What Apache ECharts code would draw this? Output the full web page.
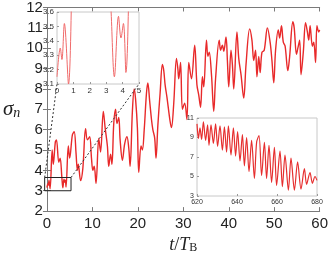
<!DOCTYPE html>
<html><head><meta charset="utf-8">
<script src="https://cdn.jsdelivr.net/npm/echarts@6/dist/echarts.min.js"></script>
<style>html,body{margin:0;padding:0;background:#fff}#c{width:331px;height:259px}</style>
</head><body><div id="c"></div>
<script>
// main chart data (t / T_B, sigma_n)
const mainT = [0,0.2,0.3,0.45,0.7,1.15,1.4,1.85,2.1,2.6,2.9,3.3,3.5,3.75,3.9,4.05,4.2,4.7,5.0,5.6,6.0,6.4,6.7,6.9,7.4,7.9,8.5,8.9,9.4,9.8,10.1,10.4,10.8,11.4,11.8,12.4,12.8,13.3,13.6,14.0,14.3,14.7,15.1,15.4,15.8,16.1,16.6,17.1,17.6,18.0,18.3,18.8,19.2,19.5,19.9,20.2,20.7,21.0,21.4,21.9,22.2,22.6,23.0,23.3,23.7,24.0,24.4,24.9,25.4,25.7,26.0,26.4,27.1,27.4,27.9,28.5,28.8,29.0,29.4,29.8,30.3,30.8,31.2,31.8,32.5,33.0,33.4,33.8,34.2,34.5,35.1,35.4,35.7,36.2,36.7,37.1,37.9,38.2,38.6,38.9,39.4,39.7,40.0,40.5,40.8,41.1,41.8,42.2,42.7,43.3,43.8,44.6,45.1,45.5,45.9,46.2,46.6,46.9,47.3,47.8,48.5,49.1,49.5,49.9,50.3,50.9,51.2,51.6,52.0,52.4,53.0,53.4,54.1,54.4,54.9,55.2,55.6,55.9,56.4,56.9,57.3,57.6,57.9,58.4,58.7,59.1,59.4,59.8,60];
const mainV = [3.15,3.35,3.27,3.52,3.1,5.0,4.3,5.4,5.5,4.4,4.6,3.6,3.15,3.57,3.42,3.52,3.18,5.2,4.6,5.75,5.9,4.85,4.0,4.3,3.5,4.1,6.05,5.5,5.65,4.6,4.0,4.2,3.36,5.57,4.9,6.9,6.1,5.2,4.2,4.8,4.3,6.3,7.0,6.3,6.6,5.5,4.5,5.3,5.65,5.1,4.2,6.9,8.0,7.5,6.1,3.9,5.2,5.0,6.0,7.8,8.3,7.4,6.5,6.0,5.6,4.6,6.2,7.8,9.2,8.9,8.2,7.6,6.4,6.1,7.3,9.5,9.0,8.5,9.3,7.0,7.3,6.5,9.3,8.5,10.15,8.2,7.7,7.1,8.6,8.1,10.4,9.6,9.8,8.7,6.9,8.5,10.4,9.9,10.15,9.85,10.55,9.4,8.1,9.9,9.2,8.0,10.8,9.5,8.7,7.55,9.2,10.95,10.4,9.4,9.9,8.6,9.6,8.8,9.8,9.9,11.0,10.3,9.4,8.3,9.9,10.9,10.5,11.1,10.3,10.1,8.9,9.6,11.3,11.0,9.7,10.0,10.4,8.7,9.8,11.25,10.8,10.4,11.1,10.1,10.3,9.3,11.1,10.8,10.9];
// later-time inset data
const lateT = [620,620.7,621.5,622.3,623.2,624.3,625.3,626,627,628.2,629.3,630.3,631.5,632.7,633.7,634.8,635.7,637,638.2,639.3,640.3,641.5,642.7,643.7,644.8,646,647.3,648.7,649.8,651,652.3,653.7,654.8,656,657.3,658.7,659.8,661.5,662.7,664,665.7,667,668.7,670.3,672,673.7,674.8,676.5,677.7,679,680];
const lateV = [10.4,8.9,10.0,8.8,10.6,8.7,10.3,8.2,10.3,8.4,10.4,8.1,10.2,7.7,10.1,7.5,10.2,7.2,10.0,7.1,9.6,6.6,9.3,6.1,9.0,5.5,8.7,4.8,8.5,9.2,5.1,8.5,4.8,8.2,4.4,8.0,4.1,7.6,3.95,7.2,3.6,6.9,3.6,6.5,3.7,5.8,4.2,5.4,4.3,5.0,4.6];
// tick values
const mainXTicks = [0,10,20,30,40,50,60];
const mainYTicks = [2,3,4,5,6,7,8,9,10,11,12];
const earlyXTicks = [0,1,2,3,4,5];
const earlyYTicks = [3.1,3.2,3.3,3.4,3.5,3.6];
const lateXTicks = [620,640,660,680];
const lateYTicks = [3,5,7,9,11];

const zip = (a, b) => a.map((v, i) => [v, b[i]]);
const axisGray = '#7a7a7a';
const lab = {color:'#222', fontFamily:'Liberation Sans', fontSize:15};
const smallLab = (fs) => ({color:'#333', fontFamily:'Liberation Sans', fontSize:fs});

const chart = echarts.init(document.getElementById('c'), null, {renderer:'canvas'});
const mainRect = {left:41, top:6, width:280, height:211};
const r1 = {left:57, top:12, width:82, height:72};
const r2 = {left:197, top:118, width:120, height:78};

const option = {
  animation:false,
  grid:[
    Object.assign({show:false, z:0}, mainRect),
    Object.assign({show:true, z:10, backgroundColor:'#fff', borderColor:'#c8c8c8', borderWidth:1}, r1),
    Object.assign({show:true, z:10, backgroundColor:'#fff', borderColor:'#c8c8c8', borderWidth:1}, r2)
  ],
  xAxis:[
    {gridIndex:0, type:'value', min:mainXTicks[0], max:mainXTicks[mainXTicks.length-1], interval:mainXTicks[1]-mainXTicks[0],
     axisLine:{show:true, lineStyle:{color:axisGray}}, axisTick:{inside:true, length:4, lineStyle:{color:axisGray}},
     splitLine:{show:false}, axisLabel:Object.assign({margin:5}, lab),
     name:'{it|t}{n|/}{it|T}{sub|B}', nameLocation:'middle', nameGap:20,
     nameTextStyle:{rich:{
       it:{fontFamily:'Liberation Serif', fontStyle:'italic', fontSize:18, color:'#222', lineHeight:20, verticalAlign:'bottom'},
       n:{fontFamily:'Liberation Serif', fontSize:18, color:'#222', lineHeight:20, verticalAlign:'bottom'},
       sub:{fontFamily:'Liberation Serif', fontSize:12, color:'#222', lineHeight:16, verticalAlign:'bottom', padding:[6,0,0,0]}
     }}},
    {gridIndex:0, type:'value', position:'top', min:mainXTicks[0], max:mainXTicks[mainXTicks.length-1], interval:mainXTicks[1]-mainXTicks[0],
     axisLine:{show:true, lineStyle:{color:axisGray}}, axisTick:{inside:true, length:4, lineStyle:{color:axisGray}},
     splitLine:{show:false}, axisLabel:{show:false}},
    {gridIndex:1, type:'value', min:earlyXTicks[0], max:earlyXTicks[earlyXTicks.length-1], interval:1, z:11,
     axisLine:{show:false}, axisTick:{inside:true, length:2, lineStyle:{color:'#999'}},
     splitLine:{show:false}, axisLabel:Object.assign({margin:3}, smallLab(8))},
    {gridIndex:2, type:'value', min:lateXTicks[0], max:lateXTicks[lateXTicks.length-1], interval:20, z:11,
     axisLine:{show:false}, axisTick:{inside:true, length:2, lineStyle:{color:'#999'}},
     splitLine:{show:false}, axisLabel:Object.assign({margin:3}, smallLab(7))}
  ],
  yAxis:[
    {gridIndex:0, type:'value', min:mainYTicks[0], max:mainYTicks[mainYTicks.length-1], interval:1,
     axisLine:{show:true, lineStyle:{color:axisGray}}, axisTick:{inside:true, length:4, lineStyle:{color:axisGray}},
     splitLine:{show:false}, axisLabel:Object.assign({margin:4}, lab),
     name:'{s|σ}{sub|n}', nameLocation:'middle', nameRotate:0, nameGap:13,
     nameTextStyle:{align:'right', rich:{
       s:{fontFamily:'Liberation Serif', fontStyle:'italic', fontSize:21, color:'#222', lineHeight:22, verticalAlign:'bottom'},
       sub:{fontFamily:'Liberation Serif', fontStyle:'italic', fontSize:14, color:'#222', lineHeight:16, verticalAlign:'bottom', padding:[8,0,0,0]}
     }}},
    {gridIndex:0, type:'value', position:'right', min:mainYTicks[0], max:mainYTicks[mainYTicks.length-1], interval:1,
     axisLine:{show:true, lineStyle:{color:axisGray}}, axisTick:{inside:true, length:4, lineStyle:{color:axisGray}},
     splitLine:{show:false}, axisLabel:{show:false}},
    {gridIndex:1, type:'value', min:earlyYTicks[0], max:earlyYTicks[earlyYTicks.length-1], interval:0.1, z:11,
     axisLine:{show:false}, axisTick:{inside:true, length:2, lineStyle:{color:'#999'}},
     splitLine:{show:false}, axisLabel:Object.assign({margin:3, formatter:(v)=>v.toFixed(1)}, smallLab(8))},
    {gridIndex:2, type:'value', min:lateYTicks[0], max:lateYTicks[lateYTicks.length-1], interval:2, z:11,
     axisLine:{show:false}, axisTick:{inside:true, length:2, lineStyle:{color:'#999'}},
     splitLine:{show:false}, axisLabel:Object.assign({margin:3}, smallLab(7))}
  ],
  series:[
    {type:'line', xAxisIndex:0, yAxisIndex:0, data:zip(mainT, mainV), smooth:0.35, showSymbol:false, z:2,
     lineStyle:{color:'#e8292a', width:1.4}},
    {type:'line', xAxisIndex:2, yAxisIndex:2, data:zip(mainT, mainV), smooth:0.35, showSymbol:false, z:12, clip:true,
     lineStyle:{color:'#f06a6a', width:1}},
    {type:'line', xAxisIndex:3, yAxisIndex:3, data:zip(lateT, lateV), smooth:0.3, showSymbol:false, z:12, clip:true,
     lineStyle:{color:'#e62e2e', width:1.2}}
  ]
};
chart.setOption(option);

// zoom box in main axes and connector lines to the early-time inset
const boxX = [-0.5, 5.3], boxY = [3.0, 3.65];
const tl = chart.convertToPixel({xAxisIndex:0, yAxisIndex:0}, [boxX[0], boxY[1]]);
const br = chart.convertToPixel({xAxisIndex:0, yAxisIndex:0}, [boxX[1], boxY[0]]);
const inBL = [r1.left, r1.top + r1.height];
const inBR = [r1.left + r1.width, r1.top + r1.height];
chart.setOption({graphic:[
  {type:'rect', z:20, shape:{x:tl[0], y:tl[1], width:br[0]-tl[0], height:br[1]-tl[1]}, style:{fill:'none', stroke:'#222', lineWidth:1}},
  {type:'line', z:20, shape:{x1:tl[0], y1:tl[1], x2:inBL[0], y2:inBL[1]}, style:{stroke:'#333', lineWidth:1, lineDash:[2,2]}},
  {type:'line', z:20, shape:{x1:br[0], y1:tl[1], x2:inBR[0], y2:inBR[1]}, style:{stroke:'#333', lineWidth:1, lineDash:[2,2]}}
]});
</script></body></html>
